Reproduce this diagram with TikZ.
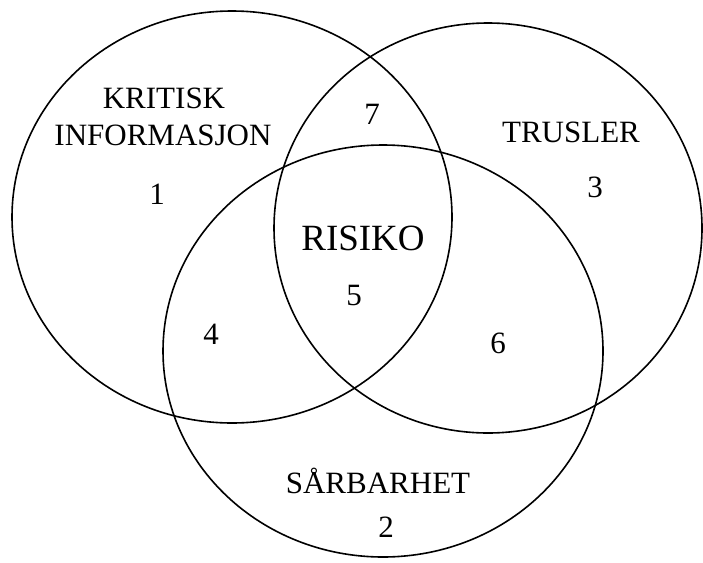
\documentclass[tikz,border=0pt]{standalone}
\usepackage{fontspec}
\setmainfont{Liberation Serif}
\usepackage{tikz}
\usetikzlibrary{positioning}
\tikzset{
    venn/.style={draw=black, line width=1.6pt},
    setlabel/.style={anchor=base, inner sep=0pt, font=\fontsize{31}{37}\selectfont, align=center},
    regionno/.style={anchor=base, inner sep=0pt, font=\fontsize{31}{37}\selectfont},
    riskolabel/.style={anchor=base, inner sep=0pt, font=\fontsize{37}{44}\selectfont},
}

\begin{document}
\begin{tikzpicture}[x=1pt, y=-1pt]
        \useasboundingbox (0,0) rectangle (703,562);

        % Centres of the three sets
        \coordinate (infoC) at (232,217);
        \coordinate (trusC) at (488,228);
        \coordinate (saarC) at (383,351);

        \draw[venn] (infoC) ellipse [x radius=220pt, y radius=206pt]; % Kritisk informasjon
        \draw[venn] (trusC) ellipse [x radius=214pt, y radius=205pt]; % Trusler
        \draw[venn] (saarC) ellipse [x radius=220pt, y radius=206pt]; % Saarbarhet

        % Set names
        \node[setlabel] (kritisk) at (164,108) {KRITISK};
        \node[setlabel] (informasjon) at (163,145) {INFORMASJON};
        \node[setlabel] (trusler) at (571,142) {TRUSLER};
        \node[setlabel] (saarbarhet) at (378,493) {SÅRBARHET};
        \node[riskolabel] (risiko) at (363,250) {RISIKO};

        % Region numbers
        \node[regionno] (n1) at (157,204) {1};
        \node[regionno] (n2) at (386,537) {2};
        \node[regionno] (n3) at (595,197) {3};
        \node[regionno] (n4) at (211,344) {4};
        \node[regionno] (n5) at (354,305) {5};
        \node[regionno] (n6) at (498,353) {6};
        \node[regionno] (n7) at (372,124) {7};
\end{tikzpicture}
\end{document}
